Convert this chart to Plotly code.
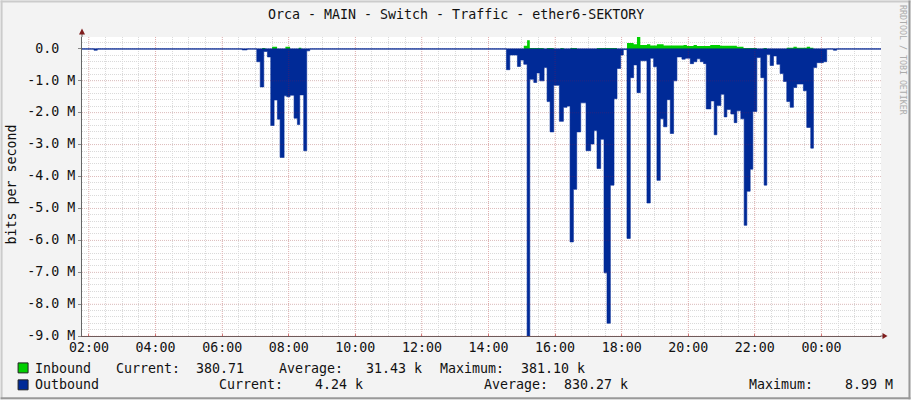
import plotly.graph_objects as go

FONT = "DejaVu Sans Mono"
TEXT = "#111111"
MGRID = "rgba(255,0,0,0.2)"
MGRID_H = "rgba(255,0,0,0.14)"

# hours since 00:00 of the first day, each value holds until the next time
out_hours = [1.79, 2.15, 2.25, 6.6, 6.75,
             7.04, 7.145, 7.25, 7.36, 7.46, 7.56, 7.66, 7.74, 7.86, 7.94, 8.04, 8.16, 8.26, 8.33, 8.45, 8.54, 8.63,
             14.54, 14.64, 14.87, 14.96, 15.06, 15.16, 15.24, 15.36, 15.45, 15.54, 15.67, 15.76, 15.85, 15.96, 16.13,
             16.25, 16.36, 16.45, 16.55, 16.65, 16.77, 16.93, 17.07, 17.17, 17.26, 17.37, 17.47, 17.56, 17.66, 17.77,
             17.86, 17.97, 18.05, 18.16, 18.26, 18.36, 18.46, 18.56, 18.76, 18.86, 18.96, 19.06, 19.16, 19.26, 19.36,
             19.46, 19.56, 19.66, 19.81, 19.91, 20.06, 20.16, 20.26, 20.36, 20.46, 20.54, 20.68, 20.78, 20.86, 20.98,
             21.08, 21.16, 21.28, 21.38, 21.46, 21.58, 21.68, 21.76, 21.86, 21.94, 22.06, 22.18, 22.28, 22.36, 22.46,
             22.56, 22.66, 22.76, 22.86, 22.96, 23.06, 23.16, 23.26, 23.46, 23.56, 23.68, 23.76, 23.86, 24.06, 24.16,
             24.36, 24.46, 25.79]
out_values = [0, -0.04, 0, -0.03, 0,
              -0.4, -1.19, -0.08, -0.25, -2.4, -1.6, -2.2, -3.4, -1.47, -1.5, -1.45, -2.17, -2.37, -1.44, -3.19, -0.06, 0,
              -0.65, -0.19, -0.55, -0.35, -0.48, -9.0, -0.95, -1.05, -0.75, -1.0, -0.58, -1.65, -2.6, -1.14, -2.27,
              -1.83, -1.79, -6.05, -4.4, -2.6, -1.69, -3.19, -2.98, -2.56, -3.75, -2.83, -7.02, -8.6, -4.27, -1.56,
              -0.61, -0.19, -0.02, -5.94, -0.9, -0.5, -1.37, -0.37, -4.83, -0.29, -0.56, -4.12, -2.19, -2.44, -1.59,
              -2.65, -1.0, -0.25, -0.32, -0.29, -0.46, -0.4, -0.31, -0.4, -0.46, -1.88, -1.63, -2.69, -1.77, -1.42,
              -2.13, -1.9, -2.04, -2.31, -1.94, -2.19, -5.53, -4.46, -3.77, -1.96, -0.27, -0.9, -4.27, -0.17, -0.52,
              -0.22, -0.48, -0.77, -1.02, -1.65, -1.83, -1.21, -1.1, -1.31, -2.46, -3.11, -0.58, -0.43, -0.4, 0,
              -0.04, 0, 0]

in_hours = [1.79, 7.2, 7.3, 7.5, 7.65, 7.9, 8.04, 8.3, 8.38,
            15.06, 15.16, 15.24, 15.66, 15.76, 15.96, 16.16, 16.26, 16.46, 16.66, 17.26, 17.86,
            18.16, 18.36, 18.46, 18.56, 18.76, 18.86, 19.06, 19.26, 19.86, 19.96, 20.16, 20.26, 20.66, 20.96,
            21.46, 21.66, 22.06, 22.26, 22.36, 22.96, 23.16, 23.26, 23.56, 23.66, 23.76, 25.79]
in_values = [0, 0.03, 0, 0.07, 0, 0.07, 0, 0.04, 0,
             0.1, 0.27, 0.03, 0, 0.03, 0, 0.03, 0, 0.03, 0, 0.03, 0,
             0.19, 0.15, 0.375, 0.125, 0.15, 0.11, 0.15, 0.11, 0.125, 0.09, 0.125, 0.09, 0.125, 0.1,
             0.07, 0.03, 0, 0.03, 0, 0.04, 0.07, 0.04, 0.07, 0.04, 0, 0]

x_ticks = [2, 4, 6, 8, 10, 12, 14, 16, 18, 20, 22, 24]
x_labels = ["02:00", "04:00", "06:00", "08:00", "10:00", "12:00", "14:00", "16:00", "18:00", "20:00", "22:00", "00:00"]
y_ticks = [0, -1, -2, -3, -4, -5, -6, -7, -8, -9]
y_labels = ["0.0\u00a0\u00a0", "-1.0 M", "-2.0 M", "-3.0 M", "-4.0 M", "-5.0 M", "-6.0 M", "-7.0 M", "-8.0 M", "-9.0 M"]

inbound_row = [("Inbound", 33), ("Current:", 115), ("380.71", 195), ("Average:", 278),
               ("31.43 k", 365), ("Maximum:", 439), ("381.10 k", 520)]
outbound_row = [("Outbound", 33), ("Current:", 218), ("4.24 k", 314), ("Average:", 483),
                ("830.27 k", 563), ("Maximum:", 748), ("8.99 M", 844)]


def px(x):
    return (x - 81.5) / 800


def py(y):
    return (336.5 - y) / 300


def label(text, x, y, **kw):
    fig.add_annotation(text=text, x=px(x), y=py(y), xref="paper", yref="paper", showarrow=False,
                       xanchor=kw.pop("xanchor", "left"), yanchor="middle",
                       font=dict(family=FONT, size=kw.pop("size", 13.3), color=kw.pop("color", TEXT)),
                       borderpad=0, **kw)


def box(x0, y0, x1, y1, fill, line=None):
    fig.add_shape(type="rect", xref="paper", yref="paper", x0=px(x0), x1=px(x1), y0=py(y0), y1=py(y1),
                  fillcolor=fill, line=dict(color=line, width=1) if line else dict(width=0), layer="below")


fig = go.Figure()
fig.add_trace(go.Scatter(x=in_hours, y=in_values, mode="lines", line=dict(shape="hv", width=0, color="#00CF00"),
                         fill="tozeroy", fillcolor="#00CF00", hoverinfo="skip"))
fig.add_trace(go.Scatter(x=out_hours, y=out_values, mode="lines", line=dict(shape="hv", width=0.6, color="#002A97"),
                         fill="tozeroy", fillcolor="#002A97", hoverinfo="skip"))

fig.update_layout(
    width=911, height=400, margin=dict(l=81.5, r=29.5, t=36.5, b=63.5, autoexpand=False),
    paper_bgcolor="#F3F3F3", plot_bgcolor="#FFFFFF", showlegend=False,
    font=dict(family=FONT, size=13.3, color=TEXT),
)
fig.update_xaxes(
    range=[1.79, 25.79], tickmode="array", tickvals=x_ticks, ticktext=x_labels, tickangle=0, ticklabelstandoff=-1,
    showline=True, linecolor="#6E5A5A", linewidth=1, zeroline=False, showgrid=False,
    ticks="inside", ticklen=2, tickcolor="#D08080",
    minor=dict(tick0=0, dtick=0.5, showgrid=True, gridcolor="#DADADA", griddash="1px,1px", gridwidth=1),
)
fig.update_yaxes(
    range=[-9, 0.375], tickmode="array", tickvals=y_ticks, ticktext=y_labels, ticklabelshift=-1,
    showline=True, linecolor="#666666", linewidth=1, zeroline=False, showgrid=False,
    ticks="outside", ticklen=3, tickcolor="#888888",
    minor=dict(tick0=0, dtick=0.2, showgrid=True, gridcolor="#DADADA", griddash="1px,1px", gridwidth=1),
)

# major grid sits on top of the areas, as in rrdtool
for h in x_ticks:
    fig.add_shape(type="line", xref="x", yref="paper", x0=h, x1=h, y0=0, y1=1,
                  line=dict(color=MGRID, width=1, dash="1px,1px"), layer="above")
for v in y_ticks:
    fig.add_shape(type="line", xref="paper", yref="y", x0=0, x1=1, y0=v, y1=v,
                  line=dict(color=MGRID_H, width=1, dash="1px,1px"), layer="above")
fig.add_shape(type="line", xref="paper", yref="y", x0=0, x1=1, y0=0, y1=0,
              line=dict(color="#002A97", width=1), layer="above")

# frame around the image
box(0, 0, 911, 2, "#CBCBCB")
box(0, 0, 2, 400, "#CBCBCB")
box(0, 398, 911, 400, "#999999")
box(909, 0, 911, 400, "#999999")

# arrows at the axis ends
fig.add_shape(type="line", xref="paper", yref="paper", x0=px(81.5), x1=px(81.5), y0=py(36.5), y1=py(32),
              line=dict(color="#666666", width=1))
fig.add_shape(type="line", xref="paper", yref="paper", x0=px(881), x1=px(884), y0=py(336.5), y1=py(336.5),
              line=dict(color="#6E5A5A", width=1))
fig.add_shape(type="path", xref="paper", yref="paper", fillcolor="#7F1D1D", line=dict(width=0),
              path=f"M {px(78.5)} {py(34)} L {px(84.5)} {py(34)} L {px(81.5)} {py(28)} Z")
fig.add_shape(type="path", xref="paper", yref="paper", fillcolor="#7F1D1D", line=dict(width=0),
              path=f"M {px(883)} {py(333.5)} L {px(883)} {py(339.5)} L {px(888)} {py(336.5)} Z")

label("Orca - MAIN - Switch - Traffic - ether6-SEKTORY", 455.5, 14, xanchor="center")
label("bits per second", 10, 185, xanchor="center", textangle=-90)
label("RRDTOOL / TOBI OETIKER", 903, 60, xanchor="center", textangle=90, size=8.3, color="#ABABAB")

box(17.5, 363.5, 27.5, 373.5, "#00CF00", "#222222")
box(17.5, 380.5, 27.5, 390.5, "#002A97", "#222222")
for text, x in inbound_row:
    label(text, x, 369)
for text, x in outbound_row:
    label(text, x, 385)

fig.write_html("out.html", config={"displayModeBar": False},
               post_script="document.body.style.margin='0';document.body.style.overflow='hidden';")
